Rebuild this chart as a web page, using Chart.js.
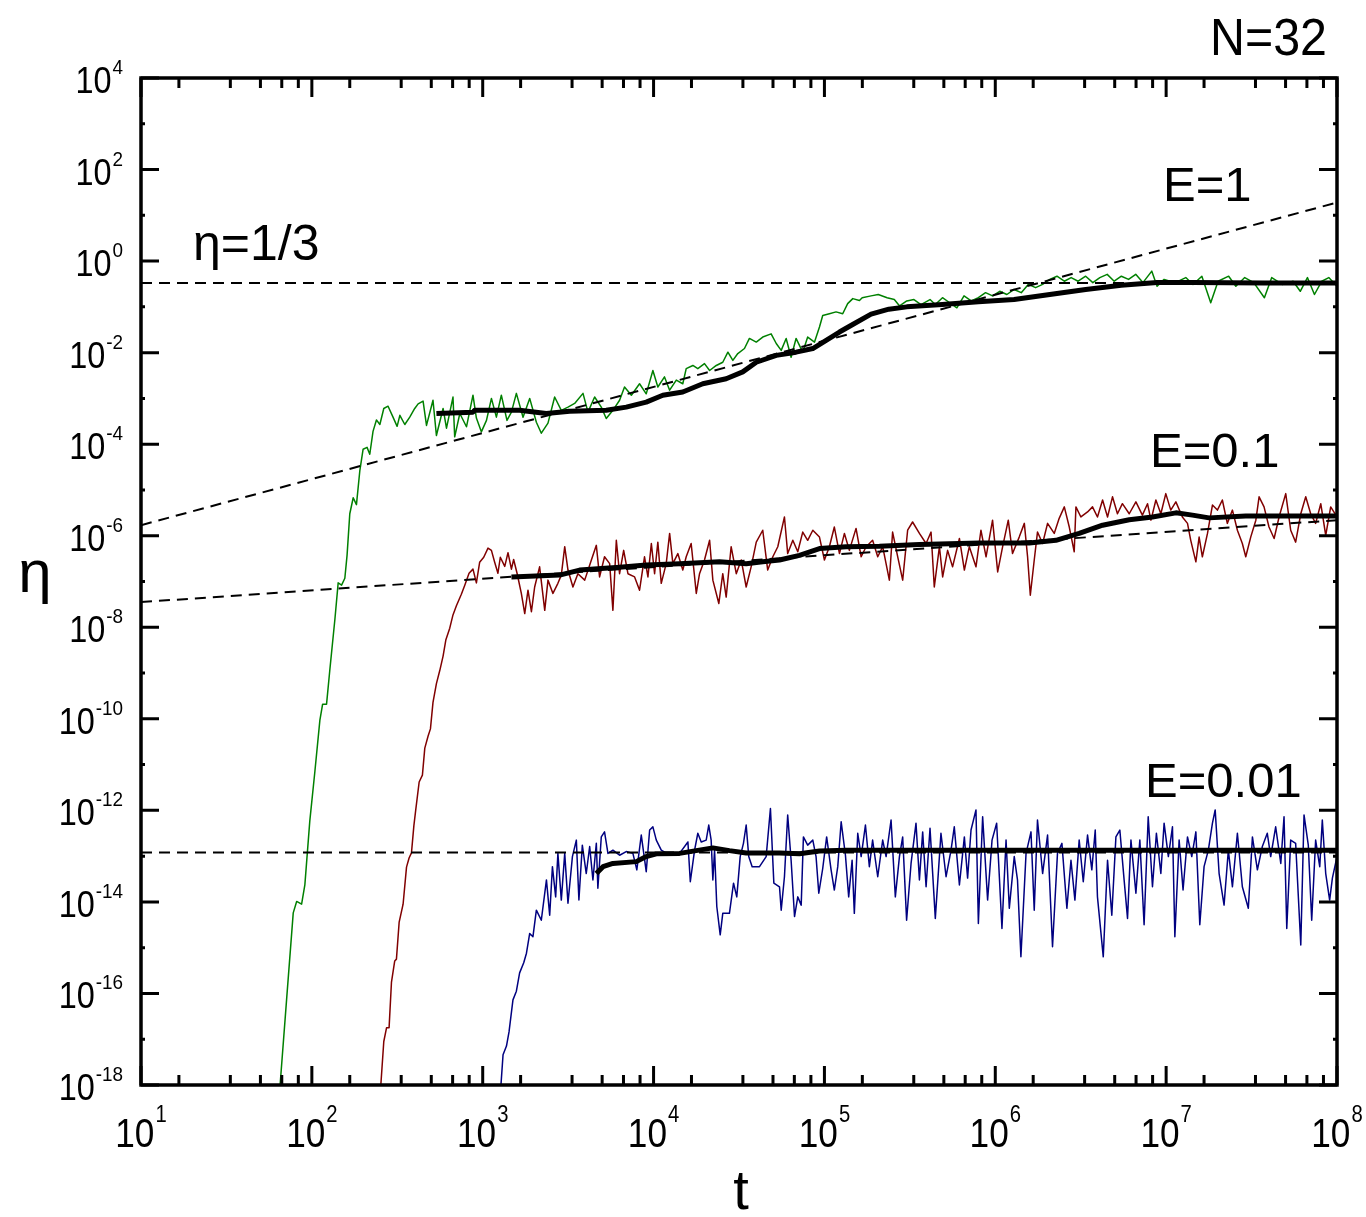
<!DOCTYPE html>
<html>
<head>
<meta charset="utf-8">
<script src="https://cdn.jsdelivr.net/npm/chart.js@4.4.0/dist/chart.umd.min.js"></script>
<style>
  html, body { margin: 0; padding: 0; background: #fff; }
  #wrap { width: 1366px; height: 1217px; }
</style>
</head>
<body>
<div id="wrap"><canvas id="chart" width="1366" height="1217"></canvas></div>
<script>
'use strict';
//****************************
// DATA  (every pair is [log10 t, log10 eta])
//****************************
var greenE1 = [
  [1.81,-18.2],[1.852,-16.14],[1.891,-14.24],[1.911,-13.99],[1.94,-14.05],[1.959,-13.63],[1.988,-12.23],[2.018,-11.14],
  [2.047,-10.03],[2.063,-9.68],[2.086,-9.68],[2.105,-8.94],[2.135,-7.82],[2.154,-7.03],[2.174,-7.08],[2.193,-6.93],
  [2.206,-6.43],[2.222,-5.52],[2.242,-5.17],[2.261,-5.32],[2.281,-4.57],[2.3,-4.11],[2.323,-4.07],[2.339,-4.22],
  [2.358,-3.72],[2.378,-3.47],[2.398,-3.57],[2.421,-3.22],[2.446,-3.17],[2.475,-3.41],[2.499,-3.61],[2.515,-3.37],
  [2.544,-3.57],[2.573,-3.41],[2.602,-3.22],[2.622,-3.12],[2.651,-3.06],[2.671,-3.59],[2.709,-3.04],[2.729,-3.81],
  [2.768,-3.22],[2.788,-3.65],[2.826,-2.97],[2.836,-3.84],[2.866,-3.33],[2.905,-3.62],[2.943,-2.93],[2.963,-3.43],
  [2.992,-3.73],[3.022,-3.48],[3.051,-3.0],[3.08,-3.41],[3.109,-2.93],[3.142,-3.48],[3.168,-3.3],[3.197,-2.89],
  [3.236,-3.41],[3.275,-3.0],[3.314,-3.52],[3.343,-3.76],[3.382,-3.54],[3.421,-2.97],[3.46,-3.26],[3.499,-3.19],
  [3.538,-3.11],[3.587,-2.89],[3.616,-3.3],[3.655,-2.97],[3.694,-3.19],[3.723,-3.44],[3.762,-3.26],[3.801,-3.04],
  [3.83,-2.75],[3.87,-2.93],[3.918,-2.68],[3.957,-2.9],[3.996,-2.39],[4.025,-2.75],[4.064,-2.53],[4.094,-2.82],
  [4.133,-2.6],[4.171,-2.68],[4.191,-2.35],[4.23,-2.28],[4.259,-2.35],[4.298,-2.24],[4.328,-2.39],[4.367,-2.28],
  [4.405,-2.21],[4.435,-1.99],[4.464,-2.17],[4.493,-2.02],[4.532,-1.91],[4.561,-1.69],[4.601,-1.77],[4.639,-1.66],
  [4.688,-1.59],[4.718,-1.8],[4.747,-1.95],[4.776,-1.69],[4.805,-2.1],[4.834,-1.69],[4.873,-1.99],[4.902,-1.66],
  [4.942,-1.77],[4.971,-1.44],[4.99,-1.19],[5.029,-1.15],[5.068,-1.11],[5.107,-1.15],[5.136,-0.93],[5.166,-0.82],
  [5.205,-0.86],[5.221,-0.8],[5.273,-0.76],[5.315,-0.73],[5.367,-0.8],[5.409,-0.84],[5.44,-0.98],[5.482,-0.87],
  [5.524,-0.84],[5.565,-0.95],[5.618,-0.84],[5.649,-0.95],[5.691,-0.8],[5.733,-0.91],[5.775,-1.02],[5.817,-0.76],
  [5.859,-0.87],[5.901,-0.8],[5.943,-0.69],[5.984,-0.76],[6.026,-0.66],[6.068,-0.73],[6.11,-0.62],[6.152,-0.69],
  [6.193,-0.51],[6.236,-0.58],[6.277,-0.51],[6.319,-0.4],[6.361,-0.33],[6.404,-0.44],[6.444,-0.36],[6.485,-0.44],
  [6.529,-0.33],[6.571,-0.47],[6.612,-0.36],[6.655,-0.29],[6.696,-0.44],[6.738,-0.33],[6.78,-0.4],[6.822,-0.29],
  [6.864,-0.47],[6.916,-0.22],[6.947,-0.55],[6.988,-0.4],[7.053,-0.47],[7.115,-0.36],[7.157,-0.51],[7.209,-0.33],
  [7.261,-0.91],[7.304,-0.44],[7.366,-0.33],[7.408,-0.55],[7.46,-0.36],[7.513,-0.47],[7.575,-0.8],[7.618,-0.36],
  [7.68,-0.51],[7.743,-0.44],[7.785,-0.66],[7.827,-0.36],[7.868,-0.73],[7.911,-0.44],[7.952,-0.36],[8.0,-0.55]
];

var redE01 = [
  [2.40,-18.2],[2.421,-17.05],[2.437,-16.75],[2.452,-16.75],[2.466,-15.75],[2.485,-15.29],[2.495,-15.25],[2.511,-14.44],
  [2.534,-14.05],[2.554,-13.24],[2.569,-13.04],[2.583,-12.93],[2.597,-12.34],[2.608,-11.99],[2.628,-11.38],[2.647,-11.23],
  [2.661,-10.64],[2.68,-10.38],[2.694,-10.22],[2.709,-9.64],[2.729,-9.23],[2.749,-8.94],[2.768,-8.63],[2.784,-8.28],
  [2.807,-8.02],[2.826,-7.73],[2.846,-7.53],[2.875,-7.28],[2.895,-7.08],[2.92,-6.82],[2.943,-6.73],[2.963,-7.03],
  [2.982,-6.58],[3.006,-6.47],[3.031,-6.27],[3.051,-6.32],[3.07,-6.58],[3.089,-6.82],[3.103,-6.47],[3.129,-6.67],
  [3.148,-6.37],[3.168,-6.73],[3.181,-6.52],[3.201,-6.82],[3.226,-7.26],[3.246,-7.7],[3.265,-7.19],[3.285,-7.66],
  [3.304,-7.12],[3.333,-6.68],[3.363,-7.63],[3.382,-6.97],[3.411,-7.26],[3.44,-7.04],[3.46,-6.86],[3.48,-6.24],
  [3.499,-6.75],[3.528,-7.12],[3.557,-6.83],[3.597,-6.97],[3.636,-6.53],[3.665,-6.21],[3.684,-6.9],[3.713,-6.46],
  [3.743,-6.61],[3.762,-7.63],[3.782,-6.1],[3.801,-6.83],[3.825,-6.32],[3.85,-6.83],[3.889,-6.9],[3.918,-7.19],
  [3.947,-6.46],[3.967,-6.9],[3.987,-6.17],[4.006,-6.83],[4.025,-6.14],[4.045,-7.04],[4.074,-6.61],[4.094,-5.95],
  [4.113,-6.61],[4.142,-6.39],[4.171,-6.75],[4.191,-6.46],[4.22,-6.17],[4.25,-7.26],[4.269,-6.83],[4.298,-6.53],
  [4.328,-6.1],[4.347,-6.97],[4.382,-7.48],[4.405,-6.83],[4.425,-7.34],[4.454,-6.24],[4.484,-6.83],[4.513,-6.53],
  [4.542,-7.12],[4.571,-6.68],[4.601,-6.14],[4.639,-5.88],[4.668,-6.75],[4.698,-6.46],[4.727,-6.24],[4.766,-5.59],
  [4.785,-6.39],[4.815,-6.1],[4.844,-6.35],[4.873,-5.92],[4.902,-6.1],[4.932,-5.88],[4.971,-6.03],[5.0,-6.53],
  [5.029,-6.24],[5.058,-5.81],[5.088,-6.39],[5.117,-5.95],[5.146,-6.32],[5.185,-5.84],[5.215,-6.46],[5.244,-6.24],
  [5.282,-6.1],[5.312,-6.46],[5.341,-6.24],[5.38,-6.97],[5.399,-5.92],[5.429,-6.46],[5.458,-6.97],[5.487,-5.88],
  [5.516,-5.7],[5.556,-5.95],[5.595,-6.17],[5.624,-5.92],[5.643,-7.12],[5.673,-6.24],[5.692,-6.9],[5.721,-6.32],
  [5.75,-6.68],[5.79,-6.06],[5.819,-6.75],[5.848,-6.24],[5.887,-6.68],[5.916,-5.88],[5.946,-6.46],[5.984,-5.66],
  [6.014,-6.79],[6.043,-6.24],[6.076,-5.66],[6.101,-6.39],[6.14,-6.03],[6.17,-5.73],[6.189,-6.46],[6.205,-7.3],
  [6.228,-6.53],[6.247,-5.92],[6.277,-6.17],[6.306,-5.73],[6.345,-5.95],[6.374,-5.62],[6.404,-5.37],[6.433,-5.81],
  [6.462,-6.35],[6.472,-5.37],[6.501,-5.59],[6.54,-5.48],[6.569,-5.37],[6.598,-5.59],[6.628,-5.22],[6.657,-5.59],
  [6.686,-5.15],[6.715,-5.52],[6.744,-5.3],[6.784,-5.52],[6.823,-5.26],[6.861,-5.55],[6.891,-5.3],[6.911,-5.66],
  [6.94,-5.22],[6.969,-5.52],[6.998,-5.08],[7.027,-5.44],[7.057,-5.26],[7.095,-5.59],[7.125,-5.73],[7.144,-6.1],
  [7.174,-6.57],[7.193,-6.03],[7.212,-6.46],[7.242,-5.95],[7.271,-5.33],[7.3,-5.44],[7.329,-5.22],[7.358,-5.73],
  [7.388,-5.44],[7.417,-5.88],[7.446,-6.17],[7.466,-6.46],[7.495,-6.03],[7.525,-5.66],[7.544,-5.15],[7.573,-5.37],
  [7.602,-5.81],[7.632,-6.06],[7.661,-5.59],[7.7,-5.08],[7.729,-5.88],[7.758,-6.14],[7.788,-5.52],[7.817,-5.15],
  [7.846,-5.52],[7.875,-5.73],[7.905,-5.3],[7.934,-5.99],[7.963,-5.37],[8.0,-5.59]
];

var blueE001 = [
  [3.103,-18.2],[3.119,-17.34],[3.139,-17.15],[3.154,-16.84],[3.177,-16.14],[3.197,-15.95],[3.216,-15.55],[3.24,-15.33],
  [3.256,-15.12],[3.275,-14.69],[3.294,-14.76],[3.314,-14.18],[3.343,-14.4],[3.373,-13.52],[3.392,-14.29],[3.408,-13.23],
  [3.427,-13.89],[3.44,-12.94],[3.46,-13.96],[3.48,-12.94],[3.499,-14.03],[3.525,-13.01],[3.548,-12.65],[3.563,-13.96],
  [3.583,-12.76],[3.606,-13.38],[3.626,-12.79],[3.645,-13.52],[3.665,-12.72],[3.674,-13.7],[3.694,-12.58],[3.713,-12.47],
  [3.733,-12.94],[3.762,-12.87],[3.801,-12.98],[3.84,-12.9],[3.879,-12.94],[3.902,-13.3],[3.928,-12.54],[3.957,-13.34],
  [3.977,-12.43],[3.996,-12.36],[4.016,-12.65],[4.045,-12.87],[4.094,-12.98],[4.152,-12.94],[4.201,-12.69],[4.215,-13.56],
  [4.24,-12.87],[4.259,-12.5],[4.279,-12.69],[4.308,-12.65],[4.323,-12.32],[4.337,-12.65],[4.347,-13.52],[4.357,-12.87],
  [4.37,-14.1],[4.39,-14.72],[4.405,-14.25],[4.444,-14.25],[4.468,-13.59],[4.487,-13.89],[4.507,-13.01],[4.526,-12.72],
  [4.542,-12.32],[4.557,-13.01],[4.577,-13.23],[4.62,-13.23],[4.659,-13.01],[4.684,-11.96],[4.704,-13.59],[4.737,-13.67],
  [4.747,-14.18],[4.766,-13.45],[4.785,-12.1],[4.805,-13.09],[4.825,-14.32],[4.844,-13.89],[4.864,-14.07],[4.877,-12.58],
  [4.902,-12.76],[4.932,-12.65],[4.951,-13.01],[4.967,-13.81],[4.99,-13.27],[5.013,-12.58],[5.039,-13.3],[5.058,-13.74],
  [5.078,-13.23],[5.098,-12.25],[5.123,-12.98],[5.142,-13.89],[5.162,-13.09],[5.175,-14.25],[5.195,-12.5],[5.215,-13.01],
  [5.24,-12.32],[5.263,-13.23],[5.282,-12.65],[5.312,-13.45],[5.341,-12.65],[5.361,-13.01],[5.39,-12.21],[5.415,-13.89],
  [5.439,-13.01],[5.458,-12.58],[5.481,-14.4],[5.507,-13.16],[5.536,-12.28],[5.556,-13.52],[5.575,-12.47],[5.595,-13.67],
  [5.618,-12.39],[5.649,-14.36],[5.682,-12.5],[5.712,-13.45],[5.741,-12.87],[5.76,-12.36],[5.79,-13.63],[5.819,-12.58],
  [5.838,-13.48],[5.858,-12.43],[5.887,-11.99],[5.901,-14.47],[5.926,-12.14],[5.955,-13.96],[5.981,-12.65],[6.008,-12.28],
  [6.039,-14.58],[6.063,-12.65],[6.082,-14.14],[6.111,-13.01],[6.13,-13.52],[6.15,-15.2],[6.18,-12.94],[6.209,-12.47],
  [6.228,-14.18],[6.247,-12.21],[6.277,-13.38],[6.306,-12.54],[6.335,-14.98],[6.364,-12.94],[6.39,-12.72],[6.419,-14.14],
  [6.443,-13.09],[6.466,-13.96],[6.491,-12.65],[6.515,-13.56],[6.54,-12.54],[6.565,-13.3],[6.585,-12.43],[6.598,-13.89],
  [6.632,-15.2],[6.657,-13.09],[6.682,-14.29],[6.706,-12.58],[6.729,-12.43],[6.754,-13.52],[6.774,-14.36],[6.794,-12.65],
  [6.823,-13.81],[6.846,-12.65],[6.871,-14.5],[6.895,-12.14],[6.92,-13.67],[6.943,-12.5],[6.969,-13.38],[6.988,-12.28],
  [7.013,-13.01],[7.037,-12.36],[7.051,-14.76],[7.076,-12.65],[7.099,-13.74],[7.125,-12.58],[7.15,-13.01],[7.174,-12.47],
  [7.197,-14.5],[7.222,-13.23],[7.247,-12.87],[7.271,-12.28],[7.287,-11.99],[7.31,-13.38],[7.339,-14.07],[7.364,-12.87],
  [7.388,-13.67],[7.417,-12.5],[7.446,-13.67],[7.481,-14.14],[7.505,-12.58],[7.534,-13.3],[7.563,-12.79],[7.592,-12.5],
  [7.612,-13.01],[7.641,-12.36],[7.671,-13.16],[7.69,-12.14],[7.706,-14.58],[7.729,-12.65],[7.758,-12.72],[7.788,-14.94],
  [7.807,-12.1],[7.832,-12.76],[7.852,-14.4],[7.875,-12.65],[7.899,-13.23],[7.914,-12.21],[7.934,-13.38],[7.957,-13.96],
  [7.973,-13.48],[8.0,-13.01]
];

// running averages (thick black)
var greenAvg = [
  [2.729,-3.33],[2.943,-3.3],[2.953,-3.26],[3.216,-3.26],[3.372,-3.33],[3.509,-3.28],[3.723,-3.26],[3.84,-3.19],
  [3.957,-3.08],[4.054,-2.93],[4.171,-2.86],[4.288,-2.68],[4.425,-2.57],[4.522,-2.42],[4.601,-2.21],[4.718,-2.06],
  [4.834,-1.99],[4.932,-1.91],[5.01,-1.73],[5.088,-1.55],[5.168,-1.38],[5.273,-1.16],[5.377,-1.05],[5.482,-1.0],
  [5.69,-0.95],[5.901,-0.89],[6.11,-0.84],[6.319,-0.73],[6.529,-0.62],[6.737,-0.53],[6.947,-0.47],[7.158,-0.47],
  [7.573,-0.48],[8.0,-0.48]
];
var redAvg = [
  [3.168,-6.9],[3.45,-6.86],[3.567,-6.75],[3.801,-6.69],[3.957,-6.64],[4.152,-6.61],[4.386,-6.57],[4.542,-6.61],
  [4.639,-6.57],[4.737,-6.53],[4.854,-6.43],[4.971,-6.28],[5.127,-6.24],[5.322,-6.23],[5.556,-6.19],[5.906,-6.16],
  [6.199,-6.16],[6.355,-6.1],[6.491,-5.95],[6.628,-5.77],[6.784,-5.65],[6.92,-5.59],[7.057,-5.5],[7.154,-5.55],
  [7.251,-5.61],[7.466,-5.57],[7.758,-5.57],[8.0,-5.57]
];
var blueAvg = [
  [3.665,-13.38],[3.704,-13.23],[3.762,-13.16],[3.899,-13.12],[3.957,-13.01],[4.016,-12.95],[4.152,-12.94],[4.347,-12.82],
  [4.444,-12.88],[4.542,-12.93],[4.737,-12.93],[4.854,-12.95],[4.971,-12.89],[5.127,-12.87],[5.556,-12.87],[8.0,-12.87]
];

// dashed guide lines
var fitE1 = [[1, -5.77], [8, 1.28]];
var fitE01 = [[1, -7.45], [8, -5.66]];
var fitE001 = [[1, -12.92], [8, -12.92]];
var fitThird = [[1, Math.log10(1 / 3)], [8, Math.log10(1 / 3)]];

// axes
var xDecades = [1, 2, 3, 4, 5, 6, 7, 8];
var yDecades = [-18, -17, -16, -15, -14, -13, -12, -11, -10, -9, -8, -7, -6, -5, -4, -3, -2, -1, 0, 1, 2, 3, 4];
var yLabelled = [-18, -16, -14, -12, -10, -8, -6, -4, -2, 0, 2, 4];
var xMinorSteps = [1, 2, 3, 4, 5];   // minor ticks at k/6 of the next decade

var FONT = '"Liberation Sans", Arial, sans-serif';

function toPoints(arr) {
  return arr.map(function (p) { return { x: Math.pow(10, p[0]), y: Math.pow(10, p[1]) }; });
}

function text(ctx, s, x, y, size, sx, align) {
  ctx.save();
  ctx.font = size + 'px ' + FONT;
  ctx.translate(x, y);
  ctx.scale(sx, 1);
  ctx.textAlign = align || 'left';
  ctx.textBaseline = 'alphabetic';
  ctx.fillStyle = '#000';
  ctx.fillText(s, 0, 0);
  ctx.restore();
}

function drawPow(ctx, e, x, y, o) {
  var s = String(e);
  ctx.font = o.base + 'px ' + FONT;
  var w1 = ctx.measureText('10').width * o.sx;
  ctx.font = o.sup + 'px ' + FONT;
  var w2 = ctx.measureText(s).width * o.sx;
  var total = w1 + w2 + 1;
  var left = o.align === 'right' ? x - total : x - total / 2;
  text(ctx, '10', left, y, o.base, o.sx);
  text(ctx, s, left + w1 + 1, y - o.rise, o.sup, o.sx);
}

var frame = {
  id: 'frame',
  afterDraw: function (chart) {
    var ctx = chart.ctx;
    var a = chart.chartArea;
    var xs = chart.scales.x;
    var ys = chart.scales.y;
    ctx.save();
    ctx.strokeStyle = '#000';
    ctx.lineCap = 'butt';

    // x ticks, bottom and top, pointing in
    ctx.lineWidth = 3;
    ctx.beginPath();
    for (var i = 0; i < xDecades.length; i++) {
      var px = xs.getPixelForValue(Math.pow(10, xDecades[i]));
      ctx.moveTo(px, a.bottom); ctx.lineTo(px, a.bottom - 19);
      ctx.moveTo(px, a.top); ctx.lineTo(px, a.top + 19);
      if (i < xDecades.length - 1) {
        for (var k = 0; k < xMinorSteps.length; k++) {
          var mx = xs.getPixelForValue(xMinorSteps[k] * Math.pow(10, xDecades[i] + 1) / 6);
          ctx.moveTo(mx, a.bottom); ctx.lineTo(mx, a.bottom - 10);
          ctx.moveTo(mx, a.top); ctx.lineTo(mx, a.top + 10);
        }
      }
    }
    // y ticks, left and right
    for (var j = 0; j < yDecades.length; j++) {
      var py = ys.getPixelForValue(Math.pow(10, yDecades[j]));
      var len = yLabelled.indexOf(yDecades[j]) >= 0 ? 18 : 4;
      ctx.moveTo(a.left, py); ctx.lineTo(a.left + len, py);
      ctx.moveTo(a.right, py); ctx.lineTo(a.right - len, py);
    }
    ctx.stroke();

    ctx.lineWidth = 3.5;
    ctx.strokeRect(a.left, a.top, a.right - a.left, a.bottom - a.top);

    // tick labels
    ctx.fillStyle = '#000';
    xDecades.forEach(function (d) {
      drawPow(ctx, d, xs.getPixelForValue(Math.pow(10, d)), a.bottom + 62,
        { base: 40, sup: 23, sx: 0.88, rise: 25, align: 'center' });
    });
    yLabelled.forEach(function (d) {
      drawPow(ctx, d, a.left - 18, ys.getPixelForValue(Math.pow(10, d)) + 15,
        { base: 36, sup: 21, sx: 0.9, rise: 19, align: 'right' });
    });

    // axis titles and notes
    text(ctx, 't', (a.left + a.right) / 2 + 2, 1209, 56, 1, 'center');
    text(ctx, '\u03b7', 35, 592, 60, 1, 'center');
    text(ctx, 'N=32', 1210, 55, 52, 0.93);
    text(ctx, 'E=1', 1163, 201, 49, 1);
    text(ctx, 'E=0.1', 1150, 467, 49, 1);
    text(ctx, 'E=0.01', 1145, 797, 49, 1);
    text(ctx, '\u03b7=1/3', 193, 260, 50, 1);
    ctx.restore();
  }
};

function thin(label, arr, color) {
  return { label: label, data: toPoints(arr), borderColor: color, borderWidth: 1.5, order: 2 };
}
function avg(label, arr) {
  return { label: label, data: toPoints(arr), borderColor: '#000', borderWidth: 5, order: 1 };
}
function dash(label, arr) {
  return { label: label, data: toPoints(arr), borderColor: '#000', borderWidth: 2, borderDash: [11, 7], order: 0 };
}

var ctx = document.getElementById('chart').getContext('2d');
var chart = new Chart(ctx, {
  type: 'line',
  data: {
    datasets: [
      thin('E=1', greenE1, '#008000'),
      thin('E=0.1', redE01, '#800000'),
      thin('E=0.01', blueE001, '#000080'),
      avg('E=1 average', greenAvg),
      avg('E=0.1 average', redAvg),
      avg('E=0.01 average', blueAvg),
      dash('E=1 fit', fitE1),
      dash('E=0.1 fit', fitE01),
      dash('E=0.01 level', fitE001),
      dash('eta=1/3', fitThird)
    ]
  },
  options: {
    responsive: false,
    animation: false,
    devicePixelRatio: 1,
    layout: { padding: { left: 141, right: 29, top: 78, bottom: 132 } },
    elements: {
      point: { radius: 0, hoverRadius: 0 },
      line: { tension: 0, fill: false, borderJoinStyle: 'round' }
    },
    plugins: { legend: { display: false }, tooltip: { enabled: false } },
    events: [],
    scales: {
      x: { type: 'logarithmic', min: 10, max: 1e8, display: false },
      y: { type: 'logarithmic', min: 1e-18, max: 1e4, display: false }
    }
  },
  plugins: [frame]
});
</script>
</body>
</html>
